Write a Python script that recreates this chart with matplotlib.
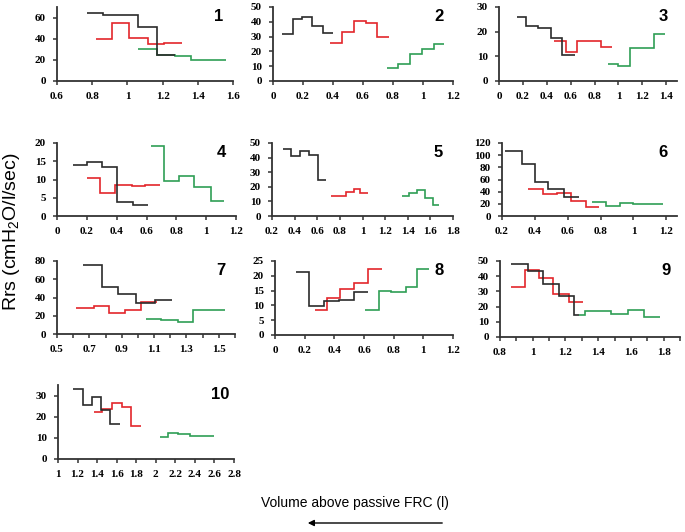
import numpy as np
import matplotlib
matplotlib.use("Agg")
import matplotlib.pyplot as plt

plt.rcParams['mathtext.fontset'] = 'custom'
plt.rcParams['mathtext.rm'] = 'Liberation Sans'

# step edges (x, litres) and levels (Rrs) per panel: black, red, green
p1_blk_x = [0.77, 0.86, 1.06, 1.17, 1.27]; p1_blk_y = [64, 62, 51, 25]
p1_red_x = [0.82, 0.91, 1.01, 1.115, 1.21, 1.31]; p1_red_y = [40, 55, 41, 35, 36]
p1_grn_x = [1.06, 1.17, 1.27, 1.36, 1.56]; p1_grn_y = [30, 25, 24, 20]

p2_blk_x = [0.06, 0.13, 0.19, 0.26, 0.33, 0.40]; p2_blk_y = [32, 42, 43.5, 37, 32.7]
p2_red_x = [0.38, 0.46, 0.54, 0.62, 0.69, 0.77]; p2_red_y = [26, 33, 40.5, 39, 29.5]
p2_grn_x = [0.76, 0.83, 0.91, 0.99, 1.07, 1.14]; p2_grn_y = [8.6, 11.4, 18, 21.6, 25.2]

p3_blk_x = [0.15, 0.23, 0.33, 0.435, 0.53, 0.64]; p3_blk_y = [26, 22.1, 21.6, 17.6, 10.5]
p3_red_x = [0.46, 0.56, 0.65, 0.85, 0.95]; p3_red_y = [16.1, 11.9, 16.1, 13.6]
p3_grn_x = [0.91, 1.0, 1.1, 1.2, 1.3, 1.39]; p3_grn_y = [6.8, 5.9, 13.2, 13.5, 19.2]

p4_blk_x = [0.11, 0.20, 0.30, 0.40, 0.51, 0.61]; p4_blk_y = [14, 14.8, 13.4, 3.7, 3.0]
p4_red_x = [0.20, 0.29, 0.39, 0.50, 0.59, 0.69]; p4_red_y = [10.5, 6.2, 8.6, 8.2, 8.6]
p4_grn_x = [0.63, 0.72, 0.82, 0.92, 1.03, 1.12]; p4_grn_y = [19.1, 9.7, 11, 8, 4.2]

p5_blk_x = [0.30, 0.37, 0.45, 0.53, 0.61, 0.68]; p5_blk_y = [46, 41, 44.7, 42, 25]
p5_red_x = [0.72, 0.85, 0.925, 0.98, 1.05]; p5_red_y = [13.5, 16.4, 18.7, 15.8]
p5_grn_x = [1.35, 1.41, 1.48, 1.55, 1.62, 1.68]; p5_grn_y = [13.5, 16, 18, 12, 7.5]

p6_blk_x = [0.22, 0.32, 0.40, 0.48, 0.575, 0.67]; p6_blk_y = [107, 85, 56, 44, 32]
p6_red_x = [0.36, 0.45, 0.535, 0.62, 0.71, 0.79]; p6_red_y = [44, 36, 38, 25, 15]
p6_grn_x = [0.75, 0.83, 0.92, 1.0, 1.18]; p6_grn_y = [23, 17, 22, 20]

p7_blk_x = [0.66, 0.775, 0.88, 0.99, 1.105, 1.21]; p7_blk_y = [76, 51, 43.5, 34.5, 37]
p7_red_x = [0.62, 0.73, 0.82, 0.92, 1.02, 1.12]; p7_red_y = [28.5, 31, 22.5, 26, 35.5]
p7_grn_x = [1.05, 1.14, 1.25, 1.34, 1.54]; p7_grn_y = [16.5, 15, 13.5, 26]

p8_blk_x = [0.14, 0.23, 0.33, 0.43, 0.53, 0.63]; p8_blk_y = [21.2, 9.9, 11.4, 11.8, 14.4]
p8_red_x = [0.27, 0.35, 0.44, 0.53, 0.63, 0.72]; p8_red_y = [8.4, 12.4, 15.5, 17.6, 22.4]
p8_grn_x = [0.61, 0.70, 0.785, 0.88, 0.96, 1.04]; p8_grn_y = [8.4, 14.8, 14.4, 16.3, 22.4]

p9_blk_x = [0.87, 0.97, 1.06, 1.16, 1.25, 1.28]; p9_blk_y = [48, 43.4, 35, 26.7, 14.8]
p9_red_x = [0.87, 0.95, 1.04, 1.125, 1.22, 1.31]; p9_red_y = [32.8, 44, 38.5, 28, 22.9]
p9_grn_x = [1.28, 1.32, 1.48, 1.58, 1.68, 1.78]; p9_grn_y = [14.8, 17, 15, 17.5, 13.2]

p10_blk_x = [1.15, 1.26, 1.35, 1.44, 1.53, 1.63]; p10_blk_y = [33, 25.7, 29.5, 23, 16.5]
p10_red_x = [1.37, 1.455, 1.55, 1.65, 1.745, 1.85]; p10_red_y = [22.4, 23.8, 26.3, 24.4, 15.4]
p10_grn_x = [2.04, 2.13, 2.23, 2.35, 2.6]; p10_grn_y = [10.3, 12.4, 11.8, 10.7]

blk = [(p1_blk_x, p1_blk_y), (p2_blk_x, p2_blk_y), (p3_blk_x, p3_blk_y), (p4_blk_x, p4_blk_y),
       (p5_blk_x, p5_blk_y), (p6_blk_x, p6_blk_y), (p7_blk_x, p7_blk_y), (p8_blk_x, p8_blk_y),
       (p9_blk_x, p9_blk_y), (p10_blk_x, p10_blk_y)]
red = [(p1_red_x, p1_red_y), (p2_red_x, p2_red_y), (p3_red_x, p3_red_y), (p4_red_x, p4_red_y),
       (p5_red_x, p5_red_y), (p6_red_x, p6_red_y), (p7_red_x, p7_red_y), (p8_red_x, p8_red_y),
       (p9_red_x, p9_red_y), (p10_red_x, p10_red_y)]
grn = [(p1_grn_x, p1_grn_y), (p2_grn_x, p2_grn_y), (p3_grn_x, p3_grn_y), (p4_grn_x, p4_grn_y),
       (p5_grn_x, p5_grn_y), (p6_grn_x, p6_grn_y), (p7_grn_x, p7_grn_y), (p8_grn_x, p8_grn_y),
       (p9_grn_x, p9_grn_y), (p10_grn_x, p10_grn_y)]

# axes box in pixels (left, top, right, bottom), x range, x tick step, label step, y range, y step
W, H = 685, 532
boxes = [(57, 7, 233, 81), (273, 7, 453, 81), (499, 7, 677, 81),
         (57, 143, 236, 216), (272, 143, 453, 216), (502, 143, 677, 216),
         (57, 261, 235, 334), (275, 261, 453, 335), (500, 261, 680, 337),
         (58, 385, 234, 459)]
xlims = [(0.6, 1.6), (0, 1.2), (0, 1.49), (0, 1.2), (0.2, 1.8), (0.2, 1.265),
         (0.5, 1.6), (0, 1.2), (0.8, 1.9), (1, 2.8)]
xstep = [0.2, 0.2, 0.2, 0.2, 0.2, 0.2, 0.1, 0.2, 0.1, 0.2]
xlab_every = [1, 1, 1, 1, 1, 1, 2, 1, 2, 1]
xlab_max = [1.6, 1.2, 1.4, 1.2, 1.8, 1.2, 1.5, 1.2, 1.8, 2.8]
ylims = [(0, 70), (0, 50), (0, 30), (0, 20), (0, 50), (0, 120), (0, 80), (0, 25), (0, 50), (0, 35)]
ysteps = [20, 10, 10, 5, 10, 20, 20, 5, 10, 10]
ymax_tick = [60, 50, 30, 20, 50, 120, 80, 25, 50, 30]

c_blk, c_red, c_grn = '#2b2b2b', '#e3262b', '#2f9e55'

fig = plt.figure(figsize=(6.85, 5.32), dpi=100)

for i in range(10):
    l, t, r, b = boxes[i]
    ax = fig.add_axes([l / W, 1 - b / H, (r - l) / W, (b - t) / H])
    for (ex, vy), c in [(grn[i], c_grn), (red[i], c_red), (blk[i], c_blk)]:
        ax.stairs(vy, ex, baseline=None, color=c, lw=1.2)
    ax.set_xlim(*xlims[i])
    ax.set_ylim(*ylims[i])
    lo = xlims[i][0]
    xt = np.round(np.arange(lo, xlims[i][1] + 1e-6, xstep[i]), 2)
    ax.set_xticks(xt)
    labs = []
    for k, v in enumerate(xt):
        if k % xlab_every[i] == 0 and v <= xlab_max[i] + 1e-6:
            labs.append(f'{v:g}')
        else:
            labs.append('')
    ax.set_xticklabels(labs)
    ax.set_yticks(np.arange(0, ymax_tick[i] + 1, ysteps[i]))
    for s in ['top', 'right']:
        ax.spines[s].set_visible(False)
    for s in ['left', 'bottom']:
        ax.spines[s].set_color('#333333')
        ax.spines[s].set_linewidth(1.3)
    ax.tick_params(direction='out', length=3, width=1.1, color='#333333', pad=5)
    for lab in ax.get_xticklabels() + ax.get_yticklabels():
        lab.set_fontfamily('Liberation Serif')
        lab.set_fontweight('bold')
        lab.set_fontsize(8)
    ax.patch.set_alpha(0)
    ax.text(0.92, 0.97, str(i + 1), transform=ax.transAxes, ha='center', va='top',
            fontsize=12, fontweight='bold', family='Liberation Sans')

fig.text(12 / W, 1 - 232 / H, 'Rrs (cmH$_\\mathregular{2}$O/l/sec)', rotation=90,
         ha='center', va='center', fontsize=14, family='Liberation Sans')
fig.text(355 / W, 1 - 503 / H, 'Volume above passive FRC (l)', ha='center', va='center',
         fontsize=10, family='Liberation Sans')
fig.patches.append(matplotlib.patches.FancyArrowPatch(
    (445 / W, 1 - 523 / H), (305 / W, 1 - 523 / H), transform=fig.transFigure,
    arrowstyle='-|>', mutation_scale=9, color='black', lw=1.0))

fig.savefig('out.png', dpi=100)
